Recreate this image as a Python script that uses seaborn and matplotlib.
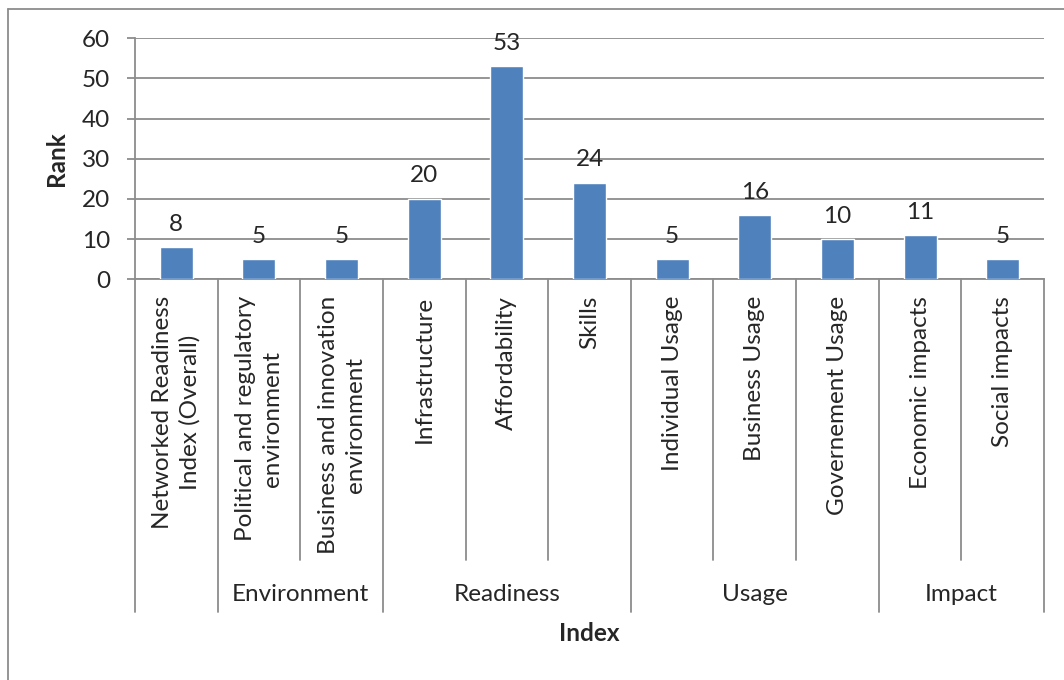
import matplotlib
matplotlib.use("Agg")
import matplotlib.pyplot as plt
from matplotlib.lines import Line2D
import pandas as pd
import seaborn as sns

categories = ["Networked Readiness\nIndex (Overall)",
              "Political and regulatory\nenvironment",
              "Business and innovation\nenvironment",
              "Infrastructure", "Affordability", "Skills",
              "Individual Usage", "Business Usage", "Governement Usage",
              "Economic impacts", "Social impacts"]
groups = ["", "Environment", "Environment",
          "Readiness", "Readiness", "Readiness",
          "Usage", "Usage", "Usage",
          "Impact", "Impact"]
ranks = [8, 5, 5, 20, 53, 24, 5, 16, 10, 11, 5]
y_ticks = [0, 10, 20, 30, 40, 50, 60]

sns.set_style("white")
plt.rcParams['font.family'] = ['Lato', 'DejaVu Sans']
FS = 17.5
GREY = "#8c8c8c"

df = pd.DataFrame({"Index": categories, "Rank": ranks})

fig = plt.figure(figsize=(10.64, 6.80), dpi=100)
ax = fig.add_axes([0.1269, 0.5893, 0.8543, 0.3544])

sns.barplot(data=df, x="Index", y="Rank", color="#4F81BD", saturation=1,
            width=0.4, ax=ax, zorder=3)
for c in ax.containers:
    ax.bar_label(c, fontsize=FS, padding=9)

ax.set_ylim(0, 60)
ax.set_yticks(y_ticks)
ax.set_xlim(-0.5, len(categories) - 0.5)
ax.yaxis.grid(True, color=GREY, linewidth=1.3, zorder=0)
ax.set_axisbelow(True)
for s in ["top", "right"]:
    ax.spines[s].set_visible(False)
for s in ["left", "bottom"]:
    ax.spines[s].set_color(GREY)
    ax.spines[s].set_linewidth(1.3)

ax.tick_params(axis="y", length=6, width=1.3, color=GREY, pad=12, labelsize=FS, left=True)
ax.tick_params(axis="x", length=0, pad=12, labelsize=FS)
ax.set_xticks(range(len(categories)))
ax.set_xticklabels(categories, rotation=90, ha="center", va="top",
                   multialignment="center", linespacing=1.35)

ax.set_xlabel("")
ax.set_ylabel("Rank", fontsize=FS, fontweight="bold", labelpad=10)

# multi-level category separators
tr = ax.get_xaxis_transform()
for i in range(len(categories) + 1):
    x = i - 0.5
    full = i == 0 or i == len(categories) or groups[i] != groups[i - 1]
    y_end = -1.38 if full else -1.165
    ax.add_line(Line2D([x, x], [0, y_end], transform=tr, color=GREY,
                       linewidth=1.3, clip_on=False))

for g in ["Environment", "Readiness", "Usage", "Impact"]:
    idx = [i for i, gg in enumerate(groups) if gg == g]
    ax.text(sum(idx) / len(idx), -1.31, g, transform=tr, ha="center",
            va="center", fontsize=FS)

ax.text(0.5, -1.47, "Index", transform=ax.transAxes, ha="center", va="center",
        fontsize=FS, fontweight="bold")

# chart area border
fig.add_artist(Line2D([0.0075, 1.0], [0.9868, 0.9868], color=GREY, linewidth=1.3))
fig.add_artist(Line2D([0.0075, 0.0075], [0.0, 0.9868], color=GREY, linewidth=1.3))

fig.savefig("out.png", dpi=100)
